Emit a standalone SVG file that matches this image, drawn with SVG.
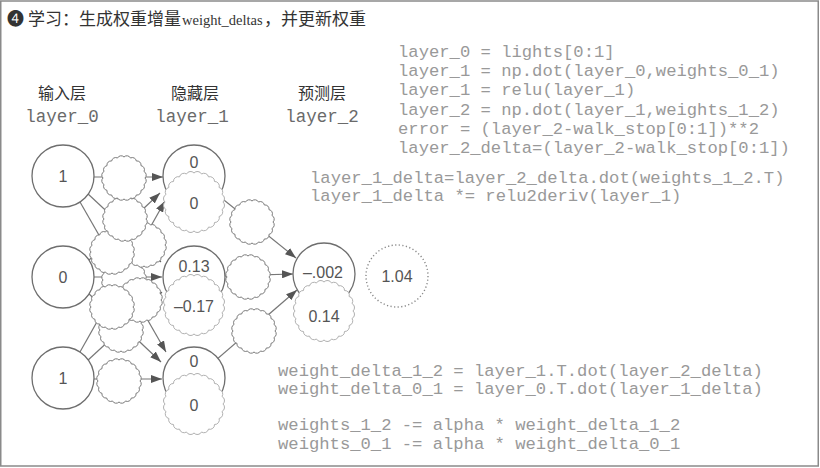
<svg xmlns="http://www.w3.org/2000/svg" xmlns:xlink="http://www.w3.org/1999/xlink" width="820" height="468" viewBox="0 0 820 468">
<style>
.frame{fill:#fff;stroke:#8a8a8a;stroke-width:1.5}
.title{font-family:"Noto Sans CJK SC","Liberation Serif",serif;font-size:17px;fill:#333}
.titlel{font-family:"Liberation Serif","Noto Sans CJK SC",serif;font-size:14.5px;fill:#333}
.hdr{font-family:"Noto Sans CJK SC",sans-serif;font-size:16px;fill:#333;text-anchor:middle}
.lbl{font-family:"Liberation Mono",monospace;font-size:17.5px;fill:#6a6a6a;text-anchor:middle}
.code{font-family:"Liberation Mono",monospace;font-size:17.2px;fill:#999}
.num{font-family:"Liberation Sans",Arial,sans-serif;font-size:16px;fill:#555;text-anchor:middle}
.node{fill:#fff;stroke:#6e6e6e;stroke-width:1.3}
.pred{fill:#fff;stroke:#b0b0b0;stroke-width:1}
.bub{fill:#fff;stroke:#7a7a7a;stroke-width:1}
.dot{fill:#fff;stroke:#888;stroke-width:1.4;stroke-dasharray:1.2 2.4}
.conn{stroke:#777;stroke-width:1.2;fill:none}
</style>
<defs>
<marker id="ah" viewBox="0 0 11 8" refX="11" refY="4" markerWidth="11" markerHeight="8" markerUnits="userSpaceOnUse" orient="auto">
<path d="M0,0 L11,4 L0,8 z" fill="#555"/>
</marker>
<path id="bub" d="M21,0 A4,4 0 0 1 19.97,6.49 A4,4 0 0 1 16.99,12.34 A4,4 0 0 1 12.34,16.99 A4,4 0 0 1 6.49,19.97 A4,4 0 0 1 0,21 A4,4 0 0 1 -6.49,19.97 A4,4 0 0 1 -12.34,16.99 A4,4 0 0 1 -16.99,12.34 A4,4 0 0 1 -19.97,6.49 A4,4 0 0 1 -21,0 A4,4 0 0 1 -19.97,-6.49 A4,4 0 0 1 -16.99,-12.34 A4,4 0 0 1 -12.34,-16.99 A4,4 0 0 1 -6.49,-19.97 A4,4 0 0 1 0,-21 A4,4 0 0 1 6.49,-19.97 A4,4 0 0 1 12.34,-16.99 A4,4 0 0 1 16.99,-12.34 A4,4 0 0 1 19.97,-6.49 A4,4 0 0 1 21,0 Z"/>
<path id="big" d="M29,0 A4.6,4.6 0 0 1 28.01,7.51 A4.6,4.6 0 0 1 25.11,14.5 A4.6,4.6 0 0 1 20.51,20.51 A4.6,4.6 0 0 1 14.5,25.11 A4.6,4.6 0 0 1 7.51,28.01 A4.6,4.6 0 0 1 0,29 A4.6,4.6 0 0 1 -7.51,28.01 A4.6,4.6 0 0 1 -14.5,25.11 A4.6,4.6 0 0 1 -20.51,20.51 A4.6,4.6 0 0 1 -25.11,14.5 A4.6,4.6 0 0 1 -28.01,7.51 A4.6,4.6 0 0 1 -29,0 A4.6,4.6 0 0 1 -28.01,-7.51 A4.6,4.6 0 0 1 -25.11,-14.5 A4.6,4.6 0 0 1 -20.51,-20.51 A4.6,4.6 0 0 1 -14.5,-25.11 A4.6,4.6 0 0 1 -7.51,-28.01 A4.6,4.6 0 0 1 0,-29 A4.6,4.6 0 0 1 7.51,-28.01 A4.6,4.6 0 0 1 14.5,-25.11 A4.6,4.6 0 0 1 20.51,-20.51 A4.6,4.6 0 0 1 25.11,-14.5 A4.6,4.6 0 0 1 28.01,-7.51 A4.6,4.6 0 0 1 29,0 Z"/>
</defs>

<rect class="frame" x="0.75" y="1" width="817.5" height="465"/>

<g id="title">
<text class="title" x="7" y="25" font-size="19">❹</text>
<text class="title" x="28" y="25">学习：生成权重增量</text>
<text class="titlel" x="182" y="25">weight_deltas</text>
<text class="title" x="264" y="25">，并更新权重</text>
</g>

<g id="headers">
<text class="hdr" x="62" y="99">输入层</text>
<text class="hdr" x="195" y="99">隐藏层</text>
<text class="hdr" x="322" y="99">预测层</text>
<text class="lbl" x="62" y="122">layer_0</text>
<text class="lbl" x="192" y="122">layer_1</text>
<text class="lbl" x="322" y="122">layer_2</text>
</g>

<g id="connectors" class="conn">
<line x1="94" y1="177" x2="163" y2="177" marker-end="url(#ah)"/>
<line x1="87" y1="262" x2="160" y2="193" marker-end="url(#ah)"/>
<line x1="80" y1="352" x2="165" y2="201" marker-end="url(#ah)"/>
<line x1="87" y1="193" x2="161" y2="262" marker-end="url(#ah)"/>
<line x1="94" y1="277" x2="162" y2="277" marker-end="url(#ah)"/>
<line x1="87" y1="361" x2="162" y2="292" marker-end="url(#ah)"/>
<line x1="80" y1="202" x2="166" y2="352" marker-end="url(#ah)"/>
<line x1="87" y1="292" x2="161" y2="362" marker-end="url(#ah)"/>
<line x1="94" y1="379" x2="162" y2="379" marker-end="url(#ah)"/>
<line x1="194" y1="176" x2="296" y2="258" marker-end="url(#ah)"/>
<line x1="194" y1="277" x2="293" y2="274" marker-end="url(#ah)"/>
<line x1="194" y1="379" x2="297" y2="290" marker-end="url(#ah)"/>
</g>

<g id="weights" class="bub">
<use href="#bub" x="124" y="280"/>
<use href="#bub" x="144" y="245"/>
<use href="#bub" x="112" y="252"/>
<use href="#bub" x="125" y="219"/>
<use href="#bub" x="121" y="330"/>
<use href="#bub" x="140" y="300"/>
<use href="#bub" x="112" y="307"/>
<use href="#bub" x="124" y="178"/>
<use href="#bub" x="119" y="381"/>
<use href="#bub" x="252" y="222"/>
<use href="#bub" x="248" y="277"/>
<use href="#bub" x="254" y="331"/>
</g>

<g id="in0"><circle class="node" cx="63" cy="176" r="31"/><text class="num" x="63" y="182">1</text></g>
<g id="in1"><circle class="node" cx="63" cy="277" r="31"/><text class="num" x="63" y="283">0</text></g>
<g id="in2"><circle class="node" cx="63" cy="378" r="31"/><text class="num" x="63" y="384">1</text></g>

<g id="hid0"><circle class="node" cx="194" cy="176" r="31"/><text class="num" x="194" y="168">0</text><use class="pred" href="#big" x="194" y="202"/><text class="num" x="194" y="209">0</text></g>
<g id="hid1"><circle class="node" cx="194" cy="277" r="31"/><text class="num" x="194" y="272">0.13</text><use class="pred" href="#big" x="194" y="305"/><text class="num" x="194" y="312">–0.17</text></g>
<g id="hid2"><circle class="node" cx="194" cy="378" r="31"/><text class="num" x="194" y="367">0</text><use class="pred" href="#big" x="194" y="404"/><text class="num" x="194" y="411">0</text></g>

<g id="out"><circle class="node" cx="324" cy="274" r="31"/><text class="num" x="323" y="278">–.002</text><use class="pred" href="#big" x="324" y="311"/><text class="num" x="324" y="322">0.14</text></g>
<g id="goal"><circle class="dot" cx="397" cy="276" r="31"/><text class="num" x="397" y="282">1.04</text></g>

<g id="code1" class="code">
<text x="398" y="57">layer_0 = lights[0:1]</text>
<text x="398" y="76">layer_1 = np.dot(layer_0,weights_0_1)</text>
<text x="398" y="95">layer_1 = relu(layer_1)</text>
<text x="398" y="114.5">layer_2 = np.dot(layer_1,weights_1_2)</text>
<text x="398" y="133.5">error = (layer_2-walk_stop[0:1])**2</text>
<text x="398" y="153">layer_2_delta=(layer_2-walk_stop[0:1])</text>
</g>
<g id="code2" class="code">
<text x="310" y="183">layer_1_delta=layer_2_delta.dot(weights_1_2.T)</text>
<text x="310" y="201">layer_1_delta *= relu2deriv(layer_1)</text>
</g>
<g id="code3" class="code">
<text x="278" y="376">weight_delta_1_2 = layer_1.T.dot(layer_2_delta)</text>
<text x="278" y="394">weight_delta_0_1 = layer_0.T.dot(layer_1_delta)</text>
<text x="278" y="430">weights_1_2 -= alpha * weight_delta_1_2</text>
<text x="278" y="449">weights_0_1 -= alpha * weight_delta_0_1</text>
</g>
</svg>
